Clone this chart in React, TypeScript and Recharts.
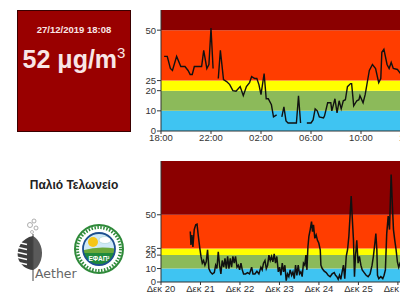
import React from "react";
import {
  LineChart,
  Line,
  XAxis,
  YAxis,
  ReferenceArea,
} from "recharts";

// last 24h, minutes since 18:00 (null = no reading)
const dayMinutes = [
  15, 30, 45, 55, 75, 95, 115, 130, 140, 150, 160, 180, 195, 205, 220, 230, 240, 250, 260,
  275, 285, 300, 315, 330, 345, 360, 380, 395, 410, 425, 435, 450, 460, 470, 480, 495, 505,
  515, 530, 540, 555, 565, 580, 590, 600, 610, 630, 650, 660, 670, 680, 700, 720, 730, 740,
  750, 760, 780, 785, 800, 815, 820, 835, 845, 855, 865, 875, 885, 895, 910, 915, 925, 940,
  950, 955, 970, 980, 1000, 1015, 1030, 1045, 1055, 1060, 1070, 1085, 1095, 1105, 1115,
  1135, 1150, 1170, 1190,
];
const dayValues: (number | null)[] = [
  37, 37, 31, 30, 37, 32, 32, 30, 28, 28, 32, 32, 32, 40, 31, 33, 51, 31, null,
  26, 40, 25.5, 24.5, 23, 20, 19.7, 22, 17.5, 22, 24, 27, 26, 26, 23, 18, 28.5, 16,
  16, 13, 7, 8, null, 7, 12, 5, 4, 4, 4, 17.5, 4, null, 4, 4, 5.5, 11,
  10, 7, 6.5, 7.5, 14, 14, 10, 16, 9, 15, 11, 15, 15.5, 22, 23.5, 23.5, 12.5, 15,
  15.5, 17.5, 14, 18, 30, 33, 31, 24, 26, 39, 40.5, 33, 31, 34, 31,
  30.5, 28.5, 27, 29,
];
const dayTicks = [0, 240, 480, 720, 960, 1200, 1440];
const dayTickLabels = ["18:00", "22:00", "02:00", "06:00", "10:00", "14:00", "18:00"];

// last week, hours since 20 Dec 00:00
const weekHours = [
  17.8, 18.2, 18.8, 19.4, 20.2, 21.1, 21.9, 22.7, 23.5, 24.3, 25.1, 25.9, 26.7, 27.5, 28.3,
  29.1, 30.0, 31.2, 32.4, 33.2, 34.0, 34.8, 35.6, 36.4, 37.2, 38.1, 38.9, 39.7, 40.5, 41.3,
  42.1, 42.9, 43.7, 44.5, 45.3, 46.2, 47.0, 47.8, 48.6, 49.4, 50.2, 51.4, 52.6, 53.8, 55.1,
  55.9, 57.1, 58.3, 59.5, 60.7, 61.5, 62.3, 63.2, 64.0, 64.8, 65.6, 66.4, 67.2, 68.0, 68.8,
  69.6, 70.4, 71.3, 72.1, 72.9, 73.7, 74.5, 75.3, 76.1, 76.9, 77.7, 78.5, 79.4, 80.2, 81.0,
  81.8, 82.6, 83.4, 84.2, 85.0, 85.8, 86.6, 87.4, 88.1, 88.7, 89.3, 89.9, 90.7, 91.5, 92.1,
  92.7, 93.5, 94.3, 95.1, 95.9, 96.8, 97.2, 98.0, 99.2, 100.4, 101.6, 102.8, 104.0, 105.3,
  106.1, 106.9, 107.7, 108.5, 109.3, 110.1, 110.9, 111.7, 112.6, 113.4, 114.2, 115.0, 115.6,
  116.2, 117.0, 117.6, 118.2, 119.0, 119.8, 120.6, 121.5, 122.3, 123.5, 124.7, 125.9, 127.1,
  128.3, 129.1, 130.0, 130.6, 131.2, 131.6, 132.4, 133.6, 134.8, 135.6, 136.4, 137.2, 138.1,
  138.9, 139.5, 139.9, 140.5, 141.3, 142.1, 142.9, 143.7, 144.5, 145.3, 147, 149, 151,
];
const weekValues = [
  37.5, 27.5, 35, 26, 39, 42.5, 43, 34, 26, 19, 14, 16, 12.5, 15, 24,
  10, 7.5, 6, 7, 12.5, 10, 22.5, 12.5, 6, 16, 11, 17.5, 10, 19, 10,
  17.5, 11, 19, 14, 19, 11, 12.5, 9, 14, 9, 6, 6, 7, 6, 11,
  6, 6, 8, 6, 11, 9, 14, 16, 10, 12.5, 20, 16, 19, 15, 21,
  14, 19, 7.5, 11, 5, 14, 7.5, 12.5, 1, 6, 4, 9, 5, 7.5, 2.5,
  12.5, 5, 12.5, 6, 7.5, 4, 14, 12.5, 20, 9, 26, 34, 39, 45, 37.5,
  42.5, 32.5, 35, 31, 29, 24, 12.5, 10, 8, 7, 5, 4, 6, 7,
  5, 4, 2, 5, 2, 7.5, 12.5, 2.5, 19, 24, 34, 51, 64,
  49, 31, 4, 19, 31, 14, 19, 12.5, 9, 7, 5, 4, 6,
  12.5, 19, 29, 36, 24, 5, 2.5, 4, 2.5, 5, 9, 36, 49,
  39, 64, 80, 61, 39, 31, 24, 15, 11, 14, 12, 9, 8,
];
const weekTicks = [0, 24, 48, 72, 96, 120, 144, 168];
const weekTickLabels = ["Δεκ 20", "Δεκ 21", "Δεκ 22", "Δεκ 23", "Δεκ 24", "Δεκ 25", "Δεκ 26", "Δεκ 27"];

const levelTicks = [0, 10, 20, 25, 50];
const bands = [
  { from: 0, to: 10, color: "#3fc4f2" },
  { from: 10, to: 20, color: "#8cba5a" },
  { from: 20, to: 25, color: "#ffff00" },
  { from: 25, to: 50, color: "#ff3d00" },
  { from: 50, to: 200, color: "#8b0000" },
];

const FONT = "'Liberation Sans', Arial, sans-serif";
const axisTick = { fontSize: 9.5, fill: "#333", fontFamily: FONT };

function BandChart({
  data,
  xDomain,
  xTicks,
  xLabels,
  yMax,
  width,
  strokeWidth,
}: {
  data: { x: number; v: number | null }[];
  xDomain: [number, number];
  xTicks: number[];
  xLabels: string[];
  yMax: number;
  width: number;
  strokeWidth: number;
}) {
  return (
    <LineChart width={width} height={151} data={data} margin={{ top: 10, right: 0, bottom: 0, left: 0 }}>
      {bands.map((b) => (
        <ReferenceArea
          key={b.from}
          y1={b.from}
          y2={Math.min(b.to, yMax)}
          fill={b.color}
          fillOpacity={1}
          stroke="none"
        />
      ))}
      <XAxis
        dataKey="x"
        type="number"
        domain={xDomain}
        ticks={xTicks}
        tickFormatter={(v) => xLabels[xTicks.indexOf(v)] ?? ""}
        tick={axisTick}
        tickSize={3}
        tickMargin={0}
        height={20}
        stroke="#333"
        interval={0}
      />
      <YAxis
        type="number"
        domain={[0, yMax]}
        ticks={levelTicks}
        tick={axisTick}
        tickSize={4}
        tickMargin={1}
        width={41}
        stroke="#333"
        interval={0}
      />
      <Line
        dataKey="v"
        stroke="#111"
        strokeWidth={strokeWidth}
        dot={false}
        type="linear"
        isAnimationActive={false}
      />
    </LineChart>
  );
}

function AetherLogo() {
  return (
    <svg width={70} height={66} style={{ position: "absolute", left: 12, top: 216 }}>
      <circle cx={22} cy={5} r={2} fill="none" stroke="#999" strokeWidth={0.8} />
      <circle cx={18} cy={9} r={2.5} fill="none" stroke="#999" strokeWidth={0.8} />
      <circle cx={24} cy={12} r={2} fill="none" stroke="#999" strokeWidth={0.8} />
      <circle cx={20} cy={16} r={1.5} fill="none" stroke="#aaa" strokeWidth={0.8} />
      <path d="M21 20 C 10 22, 4 32, 6 42 C 8 49, 15 54, 21 54 Z" fill="#3e3e3e" />
      <path d="M21 20 C 28 24, 32 34, 29 44 C 27 50, 24 53, 21 54 Z" fill="#5a5a5a" />
      {[26, 31, 36, 41, 46].map((y) => (
        <line key={y} x1={4} y1={y} x2={15} y2={y + 2.5} stroke="#fff" strokeWidth={1.4} />
      ))}
      <line x1={21} y1={18} x2={21} y2={65} stroke="#444" strokeWidth={1} />
      <text x={23} y={62} fontSize={12.5} fill="#666" fontFamily="'DejaVu Sans', sans-serif">
        Aether
      </text>
    </svg>
  );
}

function EfapLogo() {
  return (
    <svg width={52} height={56} style={{ position: "absolute", left: 73, top: 221 }}>
      <circle cx={26} cy={28} r={24} fill="#fff" stroke="#2f8a3a" strokeWidth={2} />
      <circle cx={26} cy={28} r={21.5} fill="none" stroke="#2f8a3a" strokeWidth={3} strokeDasharray="1.5 1.5" />
      <clipPath id="inner">
        <circle cx={26} cy={28} r={16} />
      </clipPath>
      <g clipPath="url(#inner)">
        <rect x={0} y={0} width={52} height={56} fill="#cfe9f7" />
        <circle cx={20} cy={21} r={5} fill="#f5c518" />
        <ellipse cx={32} cy={19} rx={6} ry={3.5} fill="#fff" stroke="#9cc" strokeWidth={0.5} />
        <path d="M8 30 Q 26 24 44 28 L 44 56 L 8 56 Z" fill="#6aa83a" />
        <rect x={0} y={32} width={52} height={24} fill="#1f8a3c" />
      </g>
      <circle cx={26} cy={28} r={16} fill="none" stroke="#1d4f8f" strokeWidth={1.8} />
      <text x={26} y={40} textAnchor="middle" fontSize={6.5} fontWeight="bold" fill="#fff" fontFamily={FONT}>
        ΕΦΑΠ²
      </text>
    </svg>
  );
}

export default function App() {
  const dayData = dayMinutes.map((x, i) => ({ x, v: dayValues[i] }));
  const weekData = weekHours.map((x, i) => ({ x, v: weekValues[i] }));
  return (
    <div
      style={{
        position: "fixed",
        left: 0,
        top: 0,
        width: 400,
        height: 300,
        overflow: "hidden",
        background: "#fff",
        fontFamily: FONT,
      }}
    >
      <div
        style={{
          position: "absolute",
          left: 17,
          top: 10,
          width: 112,
          height: 120,
          background: "#990000",
          border: "1px solid #3a0000",
          color: "#f8e6e6",
          textAlign: "center",
        }}
      >
        <div style={{ fontSize: 9.5, fontWeight: "bold", marginTop: 13 }}>27/12/2019 18:08</div>
        <div style={{ fontSize: 25, fontWeight: "bold", marginTop: 9, whiteSpace: "nowrap" }}>
          52 μg/m<sup style={{ fontSize: 15, fontWeight: "normal", verticalAlign: "10px" }}>3</sup>
        </div>
      </div>
      <div
        style={{
          position: "absolute",
          left: 0,
          top: 178,
          width: 148,
          textAlign: "center",
          fontSize: 12,
          fontWeight: "bold",
          color: "#222",
        }}
      >
        Παλιό Τελωνείο
      </div>
      <AetherLogo />
      <EfapLogo />
      <div style={{ position: "absolute", left: 120, top: 0 }}>
        <BandChart
          data={dayData}
          xDomain={[0, 1440]}
          xTicks={dayTicks}
          xLabels={dayTickLabels}
          yMax={60}
          width={341}
          strokeWidth={1.4}
        />
      </div>
      <div style={{ position: "absolute", left: 120, top: 151 }}>
        <BandChart
          data={weekData}
          xDomain={[0, 186]}
          xTicks={weekTicks}
          xLabels={weekTickLabels}
          yMax={90}
          width={347}
          strokeWidth={1.5}
        />
      </div>
    </div>
  );
}
